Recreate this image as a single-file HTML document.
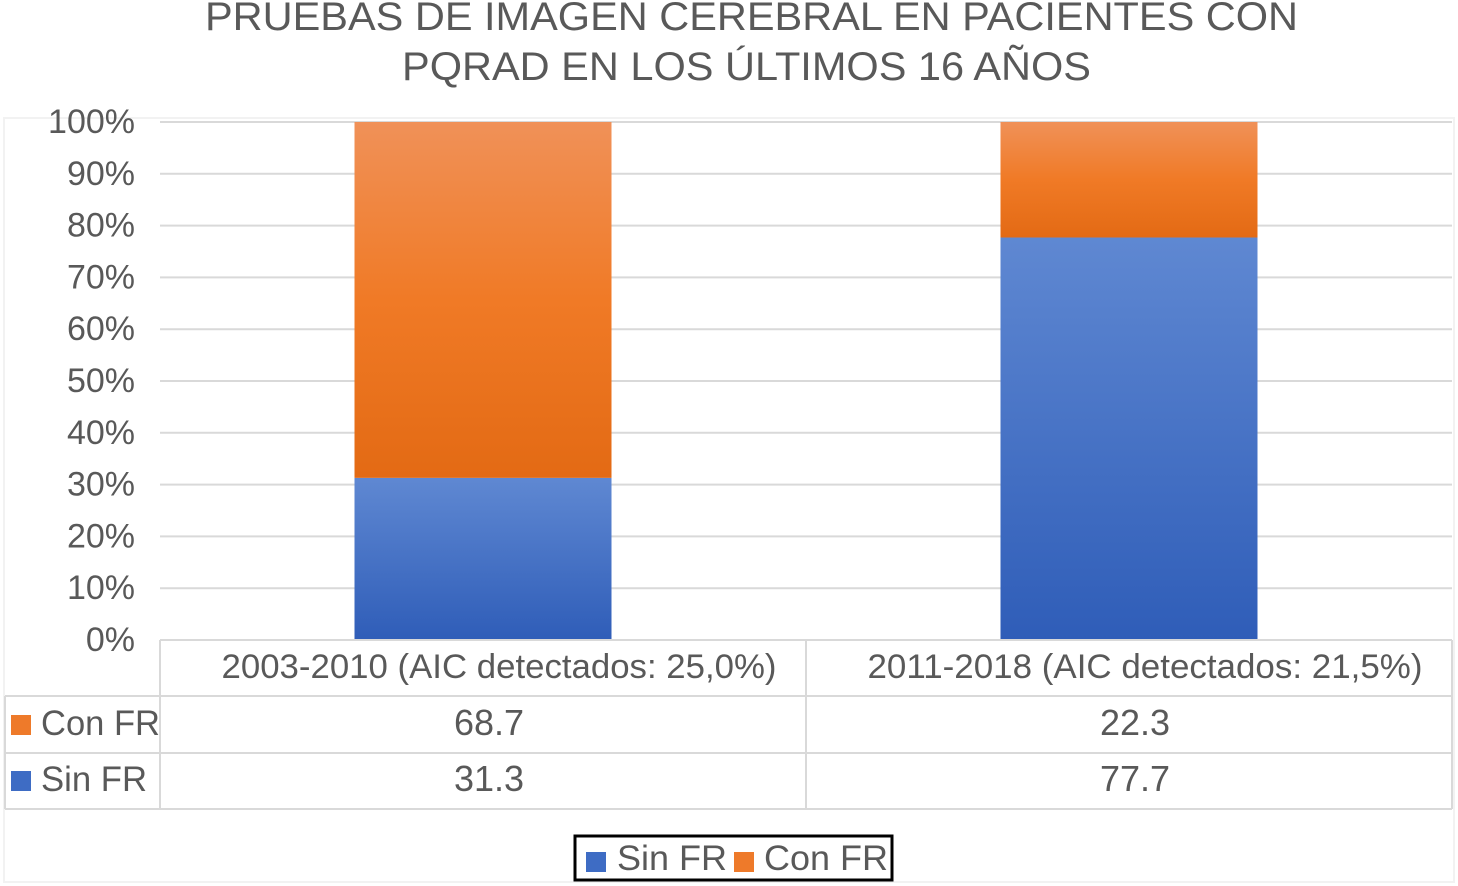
<!DOCTYPE html>
<html><head><meta charset="utf-8"><style>
html,body{margin:0;padding:0;background:#fff;}
svg{display:block;font-family:"Liberation Sans",sans-serif;}
</style></head><body>
<svg id="c" width="1458" height="886" viewBox="0 0 1458 886">
<defs>
<linearGradient id="gb" x1="0" y1="0" x2="0" y2="1"><stop offset="0" stop-color="#5f88d2"/><stop offset="1" stop-color="#2f5db8"/></linearGradient>
<linearGradient id="go" x1="0" y1="0" x2="0" y2="1"><stop offset="0" stop-color="#f09158"/><stop offset="0.5" stop-color="#f07a26"/><stop offset="1" stop-color="#e36a14"/></linearGradient>
</defs>
<rect x="0" y="0" width="1458" height="886" fill="#fff"/>
<rect x="4" y="118" width="1450" height="764" fill="none" stroke="#f2f2f2" stroke-width="2"/>
<text x="205" y="30" textLength="1093" lengthAdjust="spacingAndGlyphs" font-size="40" fill="#595959">PRUEBAS DE IMAGEN CEREBRAL EN PACIENTES CON</text>
<text x="402" y="80" textLength="689" lengthAdjust="spacingAndGlyphs" font-size="40" fill="#595959">PQRAD EN LOS ÚLTIMOS 16 AÑOS</text>
<g id="grid"></g><g id="bars"></g><g id="table"></g>
<g>
<rect x="575" y="836" width="317" height="44" fill="#fff" stroke="#000" stroke-width="3"/>
<rect x="586" y="852" width="20" height="20" fill="#3e6cc4"/>
<text x="617" y="870" textLength="110" lengthAdjust="spacingAndGlyphs" font-size="35" fill="#595959">Sin FR</text>
<rect x="734" y="852" width="20" height="20" fill="#ee7a2a"/>
<text x="764" y="870" textLength="124" lengthAdjust="spacingAndGlyphs" font-size="35" fill="#595959">Con FR</text>
</g>
</svg>
<script>
const categories = ["2003-2010 (AIC detectados: 25,0%)", "2011-2018 (AIC detectados: 21,5%)"];
const sinFR = [31.3, 77.7];
const conFR = [68.7, 22.3];
const yTicks = [0,10,20,30,40,50,60,70,80,90,100];
const NS="http://www.w3.org/2000/svg";
const X0=160,X1=1452,Y0=640,Y1=122;
const y=v=>Y0-(v/100)*(Y0-Y1);
const colW=(X1-X0)/categories.length;
const xc=i=>X0+colW*(i+0.5);
const BW=257;
function mk(t,a,p){const e=document.createElementNS(NS,t);for(const k in a)e.setAttribute(k,a[k]);p.appendChild(e);return e;}
const grid=document.getElementById('grid');
yTicks.forEach(v=>{
  const l=mk('line',{x1:X0,x2:X1,y1:y(v),y2:y(v),stroke:'#d9d9d9','stroke-width':2},grid);
  
  
  const t=mk('text',{x:135,y:y(v)+11,'text-anchor':'end','font-size':34,fill:'#595959'},grid);
  t.textContent=v+'%';
  
  
});
const bars=document.getElementById('bars');
categories.forEach((c,i)=>{
  const b=mk('rect',{x:xc(i)-BW/2,y:y(sinFR[i]),width:BW,height:y(0)-y(sinFR[i]),fill:'url(#gb)'},bars);
  
  
  const o=mk('rect',{x:xc(i)-BW/2,y:y(sinFR[i]+conFR[i]),width:BW,height:y(sinFR[i])-y(sinFR[i]+conFR[i]),fill:'url(#go)'},bars);
  
  
});
const tb=document.getElementById('table');
const st={stroke:'#d9d9d9','stroke-width':2};
[[X0,640,1452,640],[5,696,1452,696],[5,753,1452,753],[5,809,1452,809],[X0,640,X0,809],[806,640,806,809],[1452,640,1452,809],[5,696,5,809]].forEach((p,k)=>{
  const l=mk('line',Object.assign({x1:p[0],y1:p[1],x2:p[2],y2:p[3]},st),tb);
  
  
});
categories.forEach((c,i)=>{
  const t=mk('text',{x:xc(i)+16,y:678,'text-anchor':'middle','font-size':34,textLength:555,lengthAdjust:'spacingAndGlyphs',fill:'#595959'},tb);
  t.textContent=c;
  
  
  const a=mk('text',{x:xc(i)+6,y:735,'text-anchor':'middle','font-size':36,fill:'#595959'},tb);
  a.textContent=conFR[i].toFixed(1);
  
  
  const s=mk('text',{x:xc(i)+6,y:791,'text-anchor':'middle','font-size':36,fill:'#595959'},tb);
  s.textContent=sinFR[i].toFixed(1);
  
  
});
[['Con FR','#ee7a2a',735,'con-fr',119],['Sin FR','#3e6cc4',791,'sin-fr',106]].forEach(r=>{
  const sw=mk('rect',{x:11,y:r[2]-20,width:20,height:20,fill:r[1]},tb);
  
  
  const t=mk('text',{x:41,y:r[2],'font-size':35,textLength:r[4],lengthAdjust:'spacingAndGlyphs',fill:'#595959'},tb);
  t.textContent=r[0];
  
  
});
</script>
</body></html>
